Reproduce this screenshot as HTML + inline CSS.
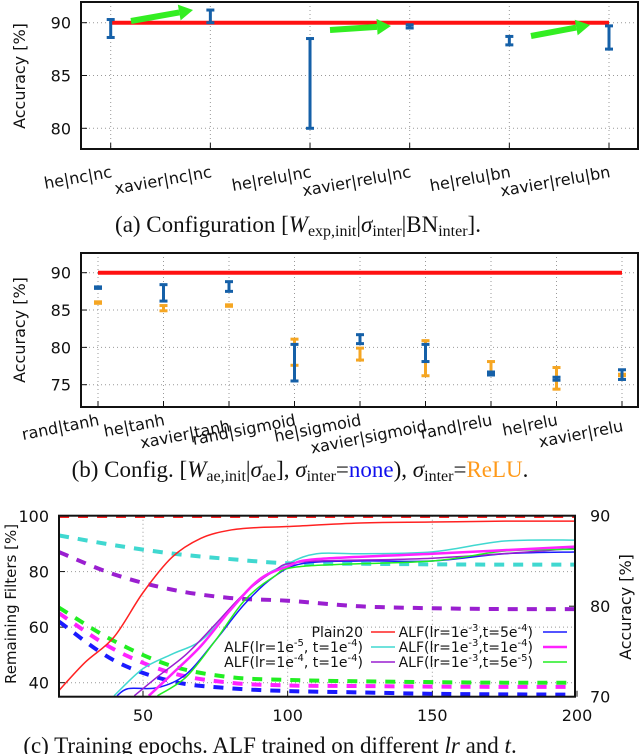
<!DOCTYPE html>
<html><head><meta charset="utf-8"><style>
html,body{margin:0;padding:0;background:#fff;}
svg{display:block;}
.t{font-family:"DejaVu Sans","Liberation Sans",sans-serif;fill:#111;}
.cap{font-family:"Liberation Serif",serif;fill:#111;font-size:23px;}
</style></head><body>
<svg id="fig" width="640" height="754" viewBox="0 0 640 754" xmlns="http://www.w3.org/2000/svg"></svg>
<script>
// ---------- (a) data ----------
const catsA = ["he|nc|nc","xavier|nc|nc","he|relu|nc","xavier|relu|nc","he|relu|bn","xavier|relu|bn"];
const lowA  = [88.6, 90.0, 80.0, 89.5, 87.9, 87.5];
const highA = [90.3, 91.2, 88.5, 89.8, 88.7, 89.7];
const ticksA = [80, 85, 90];
const baselineA = 90;
// ---------- (b) data ----------
const catsB = ["rand|tanh","he|tanh","xavier|tanh","rand|sigmoid","he|sigmoid","xavier|sigmoid","rand|relu","he|relu","xavier|relu"];
const lowNone  = [87.9, 86.2, 87.5, 75.5, 80.5, 78.1, 76.3, 75.6, 75.7];
const highNone = [88.1, 88.4, 88.8, 80.4, 81.7, 80.4, 76.7, 76.0, 77.0];
const lowRelu  = [85.9, 84.9, 85.5, 77.6, 78.3, 76.2, 76.5, 74.4, 76.2];
const highRelu = [86.1, 85.6, 85.7, 81.1, 79.9, 80.9, 78.1, 77.3, 76.4];
const ticksB = [75, 80, 85, 90];
const baselineB = 90;
// ---------- (c) data ----------
const ticksCx = [50, 100, 150, 200];
const ticksCl = [40, 60, 80, 100];
const ticksCr = [70, 80, 90];
const epochsDash = [21, 40, 60, 80, 100, 125, 150, 175, 200];
const filtPlain = [100, 100, 100, 100, 100, 100, 100, 100, 100];
const filtCyan  = [93, 89.5, 86.5, 84.5, 83, 82.8, 82.6, 82.5, 82.5];
const filtPurple= [87, 79, 73.5, 70.5, 69.5, 67.5, 66.8, 66.5, 66.5];
const filtGreen = [67, 55, 46, 42, 41, 40.5, 40.2, 40, 40];
const filtMag   = [65, 52, 43.5, 40, 39, 38.8, 38.6, 38.5, 38.5];
const filtBlue  = [62, 48, 40.5, 38, 37, 36.5, 36, 35.8, 35.7];
const epPlain = [21, 30, 40, 50, 60, 70, 80, 90, 100, 125, 150, 175, 200];
const accPlain = [70.7, 73.8, 76.6, 81.5, 85.4, 87.5, 88.4, 88.7, 88.8, 89.2, 89.3, 89.4, 89.4];
const epCyan = [40, 50, 60, 70, 80, 90, 100, 110, 125, 150, 175, 200];
const accCyan = [70.1, 73.1, 74.7, 76.2, 79.5, 82.9, 84.7, 85.8, 85.8, 86.0, 87.2, 87.3];
const epBlue = [41, 45, 55, 65, 75, 85, 95, 105, 125, 150, 175, 200];
const accBlue = [70.1, 70.9, 71.0, 72.5, 76.2, 80.2, 83.2, 84.7, 85.0, 85.0, 85.8, 86.0];
const epMag = [52, 60, 70, 80, 90, 100, 110, 150, 200];
const accMag = [70.1, 72.5, 75.6, 79.5, 82.9, 84.4, 85.2, 85.8, 86.6];
const epPurple = [47, 55, 65, 75, 85, 95, 105, 150, 200];
const accPurple = [70.1, 72.2, 74.7, 78.0, 81.4, 83.8, 84.9, 85.3, 86.4];
const epGreen = [55, 65, 75, 85, 95, 105, 150, 175, 200];
const accGreen = [70.1, 72.2, 76.2, 80.6, 83.2, 84.4, 85.0, 86.1, 86.3];

const NS = "http://www.w3.org/2000/svg";
const svg = document.getElementById('fig');
function mk(tag, attrs, parent, text){
  const e = document.createElementNS(NS, tag);
  for (const k in attrs) e.setAttribute(k, attrs[k]);
  if (text !== undefined) e.textContent = text;
  (parent || svg).appendChild(e);
  return e;
}
function grp(name){
  const g = mk('g', {});
  
  
  return g;
}
function lin(d0, d1, r0, r1){ return v => r0 + (v - d0) * (r1 - r0) / (d1 - d0); }
function errbar(g, x, y1, y2, color, name){
  const e = mk('g', {}, g);
  
  
  mk('line', {x1:x, x2:x, y1:y1, y2:y2, stroke:color, 'stroke-width':3}, e);
  mk('line', {x1:x-4, x2:x+4, y1:y1, y2:y1, stroke:color, 'stroke-width':3}, e);
  mk('line', {x1:x-4, x2:x+4, y1:y2, y2:y2, stroke:color, 'stroke-width':3}, e);
}
function smooth(pts){
  let d = 'M' + pts[0][0] + ',' + pts[0][1];
  for (let i = 0; i < pts.length - 1; i++){
    const p0 = pts[Math.max(0, i-1)], p1 = pts[i], p2 = pts[i+1], p3 = pts[Math.min(pts.length-1, i+2)];
    const c1x = p1[0] + (p2[0]-p0[0])/6, c1y = p1[1] + (p2[1]-p0[1])/6;
    const c2x = p2[0] - (p3[0]-p1[0])/6, c2y = p2[1] - (p3[1]-p1[1])/6;
    d += ' C' + c1x + ',' + c1y + ' ' + c2x + ',' + c2y + ' ' + p2[0] + ',' + p2[1];
  }
  return d;
}

// ================= (a) =================
(function(){
  const L=81, R=638, T=2, B=149;
  const y = lin(80, 90, 128.3, 22.7);
  const xs = catsA.map((c,i)=> 110.7 + i * (609 - 110.7) / (catsA.length - 1));
  const g = grp('chart-a');
  ticksA.forEach(v=>{
    const gl = mk('line',{x1:L,x2:R,y1:y(v),y2:y(v),stroke:'#999','stroke-dasharray':'1,3'},g);
     
    mk('line',{x1:L,x2:L+6,y1:y(v),y2:y(v),stroke:'#111'},g);
    const t = mk('text',{x:71,y:y(v)+6,'text-anchor':'end','font-size':16,class:'t'},g,String(v));
     
  });
  xs.forEach((x,i)=>{
    mk('line',{x1:x,x2:x,y1:T,y2:B,stroke:'#999','stroke-dasharray':'1,3'},g);
    mk('line',{x1:x,x2:x,y1:B,y2:B-6,stroke:'#111'},g);
    const t = mk('text',{x:x+2,y:177,'text-anchor':'end','font-size':16,class:'t',transform:'rotate(-10 '+(x+2)+' 177)'},g,catsA[i]);
     
  });
  const bl = mk('line',{x1:xs[0],x2:xs[xs.length-1],y1:y(baselineA),y2:y(baselineA),stroke:'#ff1111','stroke-width':4},g);
   
  catsA.forEach((c,i)=> errbar(g, xs[i], y(highA[i]), y(lowA[i]), '#1560a8', 'errorbar-a-'+i));
  const arrows = [[131,21,193,10],[330,30,391,26],[531,36,590,25]];
  arrows.forEach(a=>{
    const dx=a[2]-a[0], dy=a[3]-a[1], len=Math.hypot(dx,dy), ux=dx/len, uy=dy/len;
    const bx=a[2]-ux*14, by=a[3]-uy*14;
    const ar = mk('g',{},g);
     
    mk('line',{x1:a[0],y1:a[1],x2:bx,y2:by,stroke:'#33ee22','stroke-width':6},ar);
    mk('polygon',{points:a[2]+','+a[3]+' '+(bx-uy*8)+','+(by+ux*8)+' '+(bx+uy*8)+','+(by-ux*8),fill:'#33ee22'},ar);
  });
  const box = mk('rect',{x:L,y:T,width:R-L,height:B-T,fill:'none',stroke:'#111','stroke-width':2},g);
   
  const yt = mk('text',{x:0,y:0,'text-anchor':'middle','font-size':16,class:'t',transform:'translate(25 76) rotate(-90)'},g,'Accuracy [%]');
   
})();

// ================= (b) =================
(function(){
  const L=81, R=638, T=253, B=407;
  const y = lin(75, 90, 384.7, 272.7);
  const xs = catsB.map((c,i)=> 98 + i * (622 - 98) / (catsB.length - 1));
  const g = grp('chart-b');
  ticksB.forEach(v=>{
    mk('line',{x1:L,x2:R,y1:y(v),y2:y(v),stroke:'#999','stroke-dasharray':'1,3'},g);
    mk('line',{x1:L,x2:L+6,y1:y(v),y2:y(v),stroke:'#111'},g);
    const t = mk('text',{x:71,y:y(v)+6,'text-anchor':'end','font-size':16,class:'t'},g,String(v));
     
  });
  xs.forEach((x,i)=>{
    mk('line',{x1:x,x2:x,y1:T,y2:B,stroke:'#999','stroke-dasharray':'1,3'},g);
    mk('line',{x1:x,x2:x,y1:B,y2:B-6,stroke:'#111'},g);
    const yy = (i % 3 === 2) ? 431 : 425;
    const t = mk('text',{x:x+2,y:yy,'text-anchor':'end','font-size':16,class:'t',transform:'rotate(-11 '+(x+2)+' '+yy+')'},g,catsB[i]);
     
  });
  const bl = mk('line',{x1:xs[0],x2:xs[xs.length-1],y1:y(baselineB),y2:y(baselineB),stroke:'#ff1111','stroke-width':4},g);
   
  catsB.forEach((c,i)=> errbar(g, xs[i], y(highRelu[i]), y(lowRelu[i]), '#f5a623', 'errorbar-relu-'+i));
  catsB.forEach((c,i)=> errbar(g, xs[i], y(highNone[i]), y(lowNone[i]), '#1560a8', 'errorbar-none-'+i));
  const box = mk('rect',{x:L,y:T,width:R-L,height:B-T,fill:'none',stroke:'#111','stroke-width':2},g);
   
  const yt = mk('text',{x:0,y:0,'text-anchor':'middle','font-size':16,class:'t',transform:'translate(25 330) rotate(-90)'},g,'Accuracy [%]');
   
})();

// ================= (c) =================
(function(){
  const L=59, R=575, T=515.7, B=696.7;
  const x = lin(50, 200, 143, 577);
  const yl = lin(40, 100, 682.7, 516);
  const yr = lin(70, 90, 696.7, 515.7);
  const g = grp('chart-c');
  mk('clipPath',{id:'clipc'},g);
  mk('rect',{x:L,y:T,width:R-L,height:B-T},g.lastChild);
  ticksCl.forEach(v=>{
    mk('line',{x1:L,x2:R,y1:yl(v),y2:yl(v),stroke:'#999','stroke-dasharray':'1,3'},g);
    mk('line',{x1:L,x2:L+6,y1:yl(v),y2:yl(v),stroke:'#111'},g);
    const t = mk('text',{x:49,y:yl(v)+6,'text-anchor':'end','font-size':16,class:'t'},g,String(v));
     
  });
  ticksCr.forEach(v=>{
    mk('line',{x1:R-6,x2:R,y1:yr(v),y2:yr(v),stroke:'#111'},g);
    const t = mk('text',{x:590,y:yr(v)+6,'text-anchor':'start','font-size':16,class:'t'},g,String(v));
     
  });
  ticksCx.forEach(v=>{
    if (v < 200) mk('line',{x1:x(v),x2:x(v),y1:T,y2:B,stroke:'#999','stroke-dasharray':'1,3'},g);
    mk('line',{x1:x(v),x2:x(v),y1:B,y2:B-6,stroke:'#111'},g);
    const t = mk('text',{x:x(v),y:721,'text-anchor':'middle','font-size':16,class:'t'},g,String(v));
     
  });
  const plot = mk('g',{'clip-path':'url(#clipc)'},g);
  const dashed = [[filtPlain,'#ff2222'],[filtCyan,'#40d8d0'],[filtPurple,'#9a1fd0'],[filtGreen,'#22ee22'],[filtMag,'#ff22ff'],[filtBlue,'#1a1aff']];
  dashed.forEach((s,k)=>{
    const p = mk('path',{d:smooth(epochsDash.map((e,i)=>[x(e),yl(s[0][i])])),fill:'none',stroke:s[1],'stroke-width':4,'stroke-dasharray':'10,9'},plot);
     
  });
  const solid = [[epPlain,accPlain,'#ff2222'],[epCyan,accCyan,'#40d8d0'],[epBlue,accBlue,'#1a1aff'],[epPurple,accPurple,'#9a1fd0'],[epGreen,accGreen,'#22ee22'],[epMag,accMag,'#ff22ff']];
  solid.forEach(s=>{
    const p = mk('path',{d:smooth(s[0].map((e,i)=>[x(e),yr(s[1][i])])),fill:'none',stroke:s[2],'stroke-width':s[2]==='#ff22ff'?2.5:1.5},plot);
     
  });
  // legend
  const leg = grp('legend-c');
  const items = [
    ['Plain20','#ff2222',363,371,632],['ALF(lr=1e<tspan font-size="10" dy="-6">-5</tspan><tspan dy="6">, t=1e</tspan><tspan font-size="10" dy="-6">-4</tspan><tspan dy="6">)</tspan>','#40d8d0',363,371,647],
    ['ALF(lr=1e<tspan font-size="10" dy="-6">-4</tspan><tspan dy="6">, t=1e</tspan><tspan font-size="10" dy="-6">-4</tspan><tspan dy="6">)</tspan>','#9a1fd0',363,371,662],
    ['ALF(lr=1e<tspan font-size="10" dy="-6">-3</tspan><tspan dy="6">,t=5e</tspan><tspan font-size="10" dy="-6">-4</tspan><tspan dy="6">)</tspan>','#1a1aff',533,543,632],
    ['ALF(lr=1e<tspan font-size="10" dy="-6">-3</tspan><tspan dy="6">,t=1e</tspan><tspan font-size="10" dy="-6">-4</tspan><tspan dy="6">)</tspan>','#ff22ff',533,543,647],
    ['ALF(lr=1e<tspan font-size="10" dy="-6">-3</tspan><tspan dy="6">,t=5e</tspan><tspan font-size="10" dy="-6">-5</tspan><tspan dy="6">)</tspan>','#22ee22',533,543,662]
  ];
  items.forEach(it=>{
    const e = mk('g',{},leg);
     
    const t = mk('text',{x:it[2],y:it[4]+5,'text-anchor':'end','font-size':14,class:'t'},e);
    t.innerHTML = it[0];
    mk('line',{x1:it[3],x2:it[3]+24,y1:it[4],y2:it[4],stroke:it[1],'stroke-width':it[1]==='#ff22ff'?2.5:1.5},e);
  });
  const box = mk('rect',{x:L,y:T,width:R-L,height:B-T,fill:'none',stroke:'#111','stroke-width':2},g);
   
  const yt = mk('text',{x:0,y:0,'text-anchor':'middle','font-size':15,class:'t',transform:'translate(16 604) rotate(-90)'},g,'Remaining Filters [%]');
   
  const yt2 = mk('text',{x:0,y:0,'text-anchor':'middle','font-size':16,class:'t',transform:'translate(631 607) rotate(-90)'},g,'Accuracy [%]');
   
})();

// captions
const ca = mk('text',{x:298,y:232,'text-anchor':'middle',class:'cap'});
ca.innerHTML = '(a) Configuration [<tspan font-style="italic">W</tspan><tspan font-size="16" dy="4">exp,init</tspan><tspan dy="-4">|</tspan><tspan font-style="italic">σ</tspan><tspan font-size="16" dy="4">inter</tspan><tspan dy="-4">|BN</tspan><tspan font-size="16" dy="4">inter</tspan><tspan dy="-4">].</tspan>';
 
const cb = mk('text',{x:300,y:477,'text-anchor':'middle',class:'cap'});
cb.innerHTML = '(b) Config. [<tspan font-style="italic">W</tspan><tspan font-size="16" dy="4">ae,init</tspan><tspan dy="-4">|</tspan><tspan font-style="italic">σ</tspan><tspan font-size="16" dy="4">ae</tspan><tspan dy="-4">], </tspan><tspan font-style="italic">σ</tspan><tspan font-size="16" dy="4">inter</tspan><tspan dy="-4">=</tspan><tspan fill="#1010ee">none</tspan>), <tspan font-style="italic">σ</tspan><tspan font-size="16" dy="4">inter</tspan><tspan dy="-4">=</tspan><tspan fill="#ff9a1a">ReLU</tspan>.';
 
const cc = mk('text',{x:270,y:753,'text-anchor':'middle',class:'cap'});
cc.innerHTML = '(c) Training epochs. ALF trained on different <tspan font-style="italic">lr</tspan> and <tspan font-style="italic">t</tspan>.';
 
</script>
</body></html>
